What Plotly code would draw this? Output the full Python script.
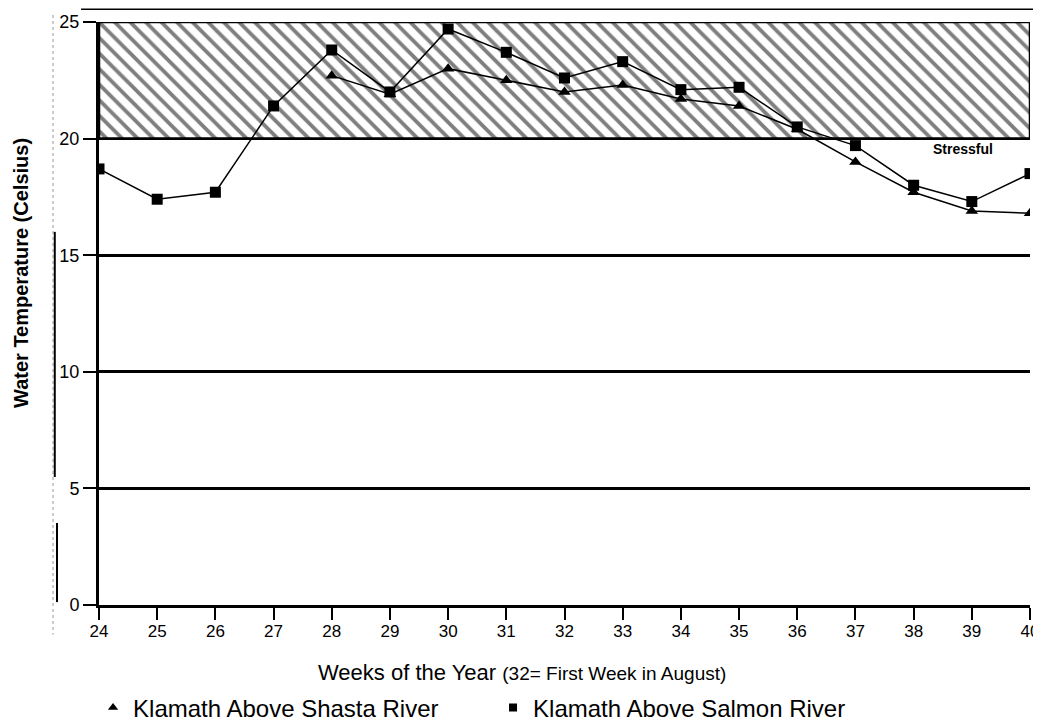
import plotly.graph_objects as go

# ---- data ----
weeks = [24, 25, 26, 27, 28, 29, 30, 31, 32, 33, 34, 35, 36, 37, 38, 39, 40]
shasta = [None, None, None, None, 22.7, 21.9, 23.0, 22.5, 22.0, 22.3, 21.7, 21.4, 20.4, 19.0, 17.7, 16.9, 16.8]
salmon = [18.7, 17.4, 17.7, 21.4, 23.8, 22.0, 24.7, 23.7, 22.6, 23.3, 22.1, 22.2, 20.5, 19.7, 18.0, 17.3, 18.5]
y_ticks = [0, 5, 10, 15, 20, 25]
stress_weeks = [24, 40]
stress_band = [20, 25]
series_names = ["Klamath Above Shasta River", "Klamath Above Salmon River"]

FONT = "Liberation Sans, Arial, sans-serif"

fig = go.Figure()

# stressful zone (hatched)
sx = [stress_weeks[0], stress_weeks[1], stress_weeks[1], stress_weeks[0], stress_weeks[0]]
sy = [stress_band[0], stress_band[0], stress_band[1], stress_band[1], stress_band[0]]
fig.add_trace(go.Scatter(
    x=sx, y=sy, mode="lines", fill="toself",
    fillcolor="white",
    fillpattern=dict(shape="\\", size=11, solidity=0.35, fgcolor="black", bgcolor="white"),
    line=dict(color="black", width=2.5),
    showlegend=False, hoverinfo="skip"))

fig.add_trace(go.Scatter(
    x=weeks, y=shasta, mode="lines+markers",
    line=dict(color="black", width=1.5),
    marker=dict(symbol="triangle-up", size=11, color="black"),
    showlegend=False, name=series_names[0]))
fig.add_trace(go.Scatter(
    x=weeks, y=salmon, mode="lines+markers",
    line=dict(color="black", width=1.5),
    marker=dict(symbol="square", size=11, color="black"),
    showlegend=False, name=series_names[1]))

# legend entries (marker only)
fig.add_trace(go.Scatter(x=[None], y=[None], mode="markers", name=series_names[0],
                         marker=dict(symbol="triangle-up", size=9, color="black")))
fig.add_trace(go.Scatter(x=[None], y=[None], mode="markers", name=series_names[1],
                         marker=dict(symbol="square", size=8, color="black")))

# page body has an 8px margin, so the figure is offset to compensate;
# the figure runs a little past the window bottom so the legend never pushes the margins
fig.update_layout(
    width=1033, height=740,
    margin=dict(l=91, r=11, t=14, b=143),
    paper_bgcolor="white", plot_bgcolor="white",
    font=dict(family=FONT, color="black"),
    xaxis=dict(range=[24, 40], tickvals=weeks, ticks="outside", ticklen=12, tickwidth=1.5,
               tickcolor="black", showline=True, linecolor="black", linewidth=3,
               showgrid=False, zeroline=False, automargin=False, ticklabelstandoff=-3,
               tickfont=dict(size=17, color="black")),
    xaxis2=dict(range=[24, 40], overlaying="x", anchor="y", side="bottom", tickvals=weeks,
                ticks="inside", ticklen=12, tickwidth=1.5, tickcolor="black", automargin=False,
                showticklabels=False, showgrid=False, zeroline=False, showline=False),
    yaxis=dict(range=[0, 25], tickvals=y_ticks, ticks="outside", ticklen=13, tickwidth=1.5,
               tickcolor="black", showline=True, linecolor="black", linewidth=3,
               showgrid=True, gridcolor="black", gridwidth=2.5, zeroline=False, automargin=False,
               tickfont=dict(size=18, color="black")),
    legend=dict(orientation="h", x=-0.0064, xanchor="left", y=-0.1767, yanchor="middle",
                font=dict(size=24, color="black"), entrywidth=355, entrywidthmode="pixels",
                bgcolor="rgba(0,0,0,0)"),
)

fig.add_annotation(text="Water Temperature (Celsius)", textangle=-90, showarrow=False,
                   xref="paper", yref="paper", x=-0.083, y=0.569, xanchor="center", yanchor="middle",
                   font=dict(size=20, color="black", family=FONT, weight="bold"))
fig.add_annotation(text="Weeks of the Year <span style='font-size:19px'>(32= First Week in August)</span>",
                   showarrow=False, xref="paper", yref="paper", x=0.454, y=-0.115,
                   xanchor="center", yanchor="middle",
                   font=dict(size=22, color="black", family=FONT))
fig.add_annotation(text="Stressful", showarrow=False, xref="x", yref="y", x=38.85, y=19.55,
                   xanchor="center", yanchor="middle",
                   font=dict(size=14, color="black", family=FONT, weight="bold"))

# scan artifacts: top rule and left margin line
fig.add_shape(type="line", xref="paper", yref="paper", x0=-0.0193, x1=1.005, y0=1.022, y1=1.022,
              line=dict(color="black", width=1.5))
fig.add_shape(type="line", xref="paper", yref="paper", x0=-0.0494, x1=-0.0494, y0=1.012, y1=-0.051,
              line=dict(color="#999999", width=1, dash="dot"))
fig.add_shape(type="line", xref="paper", yref="paper", x0=-0.0475, x1=-0.0475, y0=0.640, y1=0.2196,
              line=dict(color="black", width=2))
fig.add_shape(type="line", xref="paper", yref="paper", x0=-0.0451, x1=-0.0451, y0=0.1407, y1=0.005,
              line=dict(color="black", width=2))

fig.write_html("out.html")
